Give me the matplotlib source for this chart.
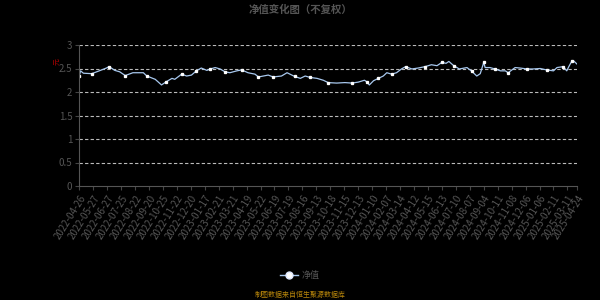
import matplotlib
matplotlib.use("Agg")
import matplotlib.pyplot as plt
import numpy as np

plt.rcParams['font.family'] = ['Noto Sans CJK SC', 'DejaVu Sans']

# tick labels every 20 trading days, last one shorter
tick_labels = ['2022-04-26', '2022-05-27', '2022-06-27', '2022-07-25', '2022-08-22',
               '2022-09-20', '2022-10-25', '2022-11-22', '2022-12-20', '2023-01-17',
               '2023-02-21', '2023-03-21', '2023-04-19', '2023-05-22', '2023-06-19',
               '2023-07-19', '2023-08-16', '2023-09-13', '2023-10-18', '2023-11-15',
               '2023-12-13', '2024-01-10', '2024-02-07', '2024-03-14', '2024-04-12',
               '2024-05-15', '2024-06-13', '2024-07-10', '2024-08-07', '2024-09-04',
               '2024-10-11', '2024-11-08', '2024-12-06', '2025-01-06', '2025-02-11',
               '2025-03-11', '2025-04-24']
tick_pos = list(range(0, 720, 20)) + [714]

# net value (trading-day index, value)
day_idx = [0, 2, 6, 18, 27, 39, 43, 51, 58, 66, 77, 92, 97, 109, 118, 125, 133, 137,
           147, 154, 161, 168, 175, 183, 188, 195, 202, 209, 216, 226, 233, 242, 252,
           257, 264, 271, 278, 290, 298, 309, 317, 324, 331, 341, 350, 357, 369, 381,
           391, 400, 409, 412, 416, 422, 429, 436, 441, 448, 455, 462, 468, 477, 486,
           496, 505, 513, 520, 526, 530, 537, 545, 556, 563, 570, 575, 580, 582, 589,
           596, 604, 611, 615, 625, 632, 642, 651, 661, 670, 680, 685, 694, 699, 702,
           706, 709, 714]
nav = [2.34, 2.45, 2.40, 2.39, 2.44, 2.51, 2.54, 2.46, 2.43, 2.35, 2.41, 2.41, 2.34,
       2.27, 2.15, 2.22, 2.29, 2.27, 2.38, 2.34, 2.36, 2.45, 2.51, 2.46, 2.49, 2.52,
       2.49, 2.43, 2.41, 2.45, 2.47, 2.41, 2.38, 2.32, 2.34, 2.36, 2.32, 2.34, 2.41,
       2.33, 2.29, 2.34, 2.31, 2.29, 2.25, 2.20, 2.19, 2.20, 2.19, 2.21, 2.25, 2.22,
       2.15, 2.24, 2.29, 2.34, 2.41, 2.38, 2.41, 2.49, 2.54, 2.49, 2.51, 2.54, 2.58,
       2.56, 2.63, 2.61, 2.65, 2.56, 2.49, 2.52, 2.44, 2.34, 2.39, 2.63, 2.52, 2.52,
       2.49, 2.45, 2.45, 2.41, 2.52, 2.51, 2.49, 2.49, 2.50, 2.47, 2.45, 2.52, 2.54,
       2.45, 2.54, 2.65, 2.66, 2.59]

fig = plt.figure(figsize=(6, 3), dpi=100, facecolor='black')
ax = fig.add_axes([0.132, 0.38, 0.83, 0.47], facecolor='black')

ax.plot(day_idx, nav, color='#a8c8ee', lw=0.9, marker='s', ms=1.4,
        mfc='white', mec='white', markevery=3, label='净值')

ax.set_xlim(0, 714)
ax.set_ylim(0, 3)
ax.set_yticks([0, 0.5, 1, 1.5, 2, 2.5, 3])
ax.set_yticklabels(['0', '0.5', '1', '1.5', '2', '2.5', '3'])
for y in [0.5, 1, 1.5, 2, 2.5, 3]:
    ax.axhline(y, color='#bbbbbb', lw=0.8, ls=(0, (3, 2)), zorder=0)

ax.set_xticks(tick_pos)
ax.set_xticklabels(tick_labels, rotation=58, ha='right', rotation_mode='anchor')
ax.tick_params(axis='both', colors='#444444', labelcolor='#555555', labelsize=7,
               length=3, width=0.8, pad=2)
for s in ['top', 'right']:
    ax.spines[s].set_visible(False)
for s in ['left', 'bottom']:
    ax.spines[s].set_color('#555555')
    ax.spines[s].set_linewidth(0.8)

fig.text(0.5, 0.968, '净值变化图（不复权）', ha='center', va='center',
         fontsize=7.5, fontweight='bold', color='#555555')
fig.text(0.096, 0.795, '元', ha='center', va='center', fontsize=5,
         color='#aa0000', rotation=90)

# legend at bottom
fig.lines.append(plt.Line2D([0.467, 0.497], [0.083, 0.083], color='#a8c8ee',
                            lw=1, transform=fig.transFigure))
fig.lines.append(plt.Line2D([0.482], [0.083], marker='o', ms=5, mfc='white',
                            mec='#dde8ff', transform=fig.transFigure))
fig.text(0.503, 0.083, '净值', ha='left', va='center', fontsize=6.5, color='#555555')
fig.text(0.5, 0.017, '制图数据来自恒生聚源数据库', ha='center', va='center',
         fontsize=5, color='#b8860b')

fig.savefig('out.png', dpi=100, facecolor='black')
